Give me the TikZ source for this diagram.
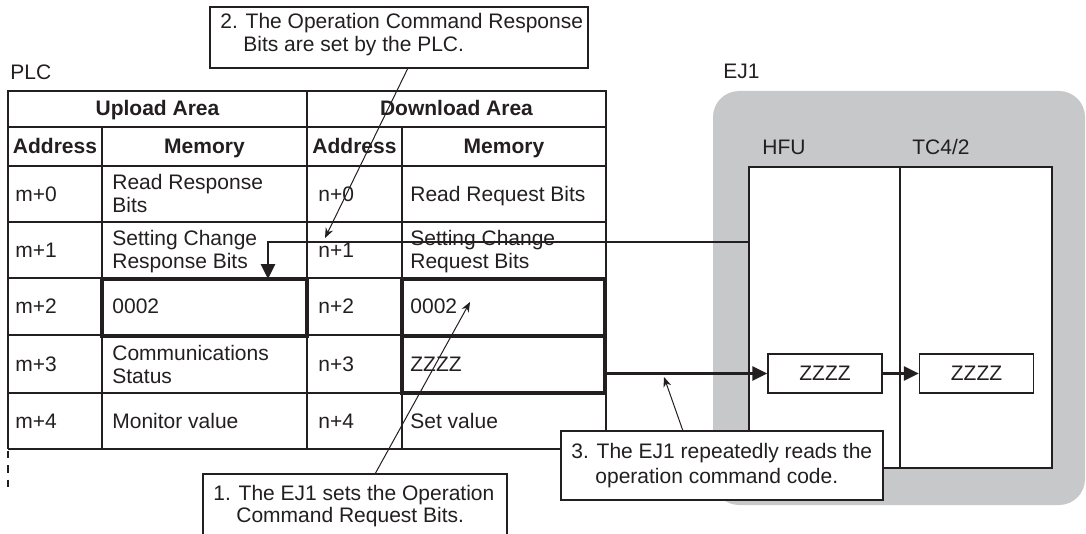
\documentclass[tikz,border=0pt]{standalone}
\usepackage{fontspec}
\setmainfont{Liberation Sans}
\usetikzlibrary{arrows.meta}
\definecolor{ink}{HTML}{231F20}
\definecolor{panel}{HTML}{C7C8CA}
\tikzset{
  txt/.style={anchor=base west, inner sep=0pt, text=ink, font=\fontsize{10.5pt}{11.5pt}\selectfont},
  hdr/.style={anchor=base, inner sep=0pt, text=ink, font=\fontsize{10.5pt}{11.5pt}\selectfont\bfseries},
  outer/.style={draw=ink, line width=1.1pt},
  inner/.style={draw=ink, line width=0.65pt},
  thickbox/.style={draw=ink, line width=1.75pt},
  unitbox/.style={draw=ink, line width=0.85pt, fill=white},
  zbox/.style={draw=ink, line width=0.7pt, fill=white, minimum width=57pt, minimum height=19.5pt, inner sep=0pt, text=ink, font=\fontsize{10.5pt}{11.5pt}\selectfont},
  bigarrow/.style={draw=ink, line width=1.35pt, -{Triangle[length=7.5pt,width=7pt]}},
  calloutbox/.style={draw=ink, line width=0.6pt, fill=white},
  pointer/.style={draw=ink, line width=0.5pt, -{Stealth[length=5pt,width=4pt]}}
}
\begin{document}
\begin{tikzpicture}[x=0.5pt,y=-0.5pt]
\useasboundingbox (0,0) rectangle (1086,534);
\clip (0,0) rectangle (1086,534);

% EJ1 panel
\fill[panel, rounded corners=13pt] (713,91) rectangle (1085,505);
\draw[unitbox] (749,167) rectangle (900,468);
\draw[unitbox] (900,167) rectangle (1052,468);
\node[txt] (ej1) at (723,79) {EJ1};
\node[txt] (hfu) at (762,155) {HFU};
\node[txt] (tc) at (912,155) {TC4/2};

% PLC table
\node[txt] (plc) at (10,80) {PLC};
\foreach \y in {127,166,222,278,335,393}{\draw[inner] (8,\y) -- (606,\y);}
\draw[inner] (8,449) -- (606,449);
\draw[inner] (307,91) -- (307,449);
\draw[inner] (102,127) -- (102,449);
\draw[inner] (402,127) -- (402,449);
\draw[outer] (8,449) -- (8,91) -- (606,91) -- (606,449);
\draw[draw=ink, line width=1.1pt, dash pattern=on 3.75pt off 3.5pt] (8,450.5) -- (8,489);

\node[hdr] (hup) at (157.5,116) {Upload Area};
\node[hdr] (hdown) at (456.5,116) {Download Area};
\node[hdr] (ha1) at (55,154) {Address};
\node[hdr] (hm1) at (204.5,154) {Memory};
\node[hdr] (ha2) at (354.5,154) {Address};
\node[hdr] (hm2) at (504,154) {Memory};

% addresses
\node[txt] (m0) at (15,201.5) {m+0};
\node[txt] (m1) at (15,257.5) {m+1};
\node[txt] (m2) at (15,314) {m+2};
\node[txt] (m3) at (15,371.5) {m+3};
\node[txt] (m4) at (15,428) {m+4};
\node[txt] (n0) at (318,201.5) {n+0};
\node[txt] (n1) at (318,257.5) {n+1};
\node[txt] (n2) at (318,314) {n+2};
\node[txt] (n3) at (318,371.5) {n+3};
\node[txt] (n4) at (318,428) {n+4};

% upload memory
\node[txt] (u0a) at (112,190) {Read Response};
\node[txt] (u0b) at (112,213) {Bits};
\node[txt] (u1a) at (112,246) {Setting Change};
\node[txt] (u1b) at (112,269) {Response Bits};
\node[txt] (u2) at (112,314) {0002};
\node[txt] (u3a) at (112,360) {Communications};
\node[txt] (u3b) at (112,383) {Status};
\node[txt] (u4) at (112,428) {Monitor value};

% download memory
\node[txt] (d0) at (410,201.5) {Read Request Bits};
\node[txt] (d1a) at (410,246) {Setting Change};
\node[txt] (d1b) at (410,269) {Request Bits};
\node[txt] (d2) at (410,314) {0002};
\node[txt] (d3) at (410,371.5) {ZZZZ};
\node[txt] (d4) at (410,428) {Set value};

% thick boxes
\draw[thickbox] (102,279) rectangle (307,336);
\node[inner sep=0pt, minimum width=102pt, minimum height=28.5pt] (upbox) at (204.5,307.5) {};
\draw[thickbox] (402,279) rectangle (605,336);
\draw[thickbox] (402,336) rectangle (605,393);
\node[inner sep=0pt, minimum width=101.5pt, minimum height=28.5pt] (dnbox) at (503.5,364.5) {};

% ZZZZ boxes in EJ1
\node[zbox] (z1) at (825,373.5) {ZZZZ};
\node[zbox] (z2) at (976.5,373.5) {ZZZZ};

% connectors
\coordinate (hfuL) at (749,242);
\coordinate (upTop) at (268,279);
\draw[bigarrow] (hfuL) -| (upTop);
\coordinate (dnR) at (606,373.5);
\draw[bigarrow] (dnR) -- (z1.west);
\draw[bigarrow] (z1.east) -- (z2.west);

% callouts
\node[calloutbox, minimum width=189pt, minimum height=30.5pt, inner sep=0pt] (c2) at (399,37.5) {};
\node[txt] (c2a) at (220,29) {2. The Operation Command Response};
\node[txt] (c2b) at (243,52) {Bits are set by the PLC.};
\coordinate (c2s) at (408,68);
\coordinate (c2t) at (325,238);
\draw[pointer] (c2s) -- (c2t);

\node[calloutbox, minimum width=152pt, minimum height=40pt, inner sep=0pt] (c1) at (355,514) {};
\node[txt] (c1a) at (213,500) {1. The EJ1 sets the Operation};
\node[txt] (c1b) at (236,522) {Command Request Bits.};
\coordinate (c1s) at (375,474);
\coordinate (c1t) at (470,302);
\draw[pointer] (c1s) -- (c1t);

\node[calloutbox, minimum width=161pt, minimum height=34.5pt, inner sep=0pt] (c3) at (722,465.5) {};
\node[txt] (c3a) at (571,458) {3. The EJ1 repeatedly reads the};
\node[txt] (c3b) at (595,483) {operation command code.};
\coordinate (c3s) at (683,431);
\coordinate (c3t) at (664,377);
\draw[pointer] (c3s) -- (c3t);
\end{tikzpicture}
\end{document}
